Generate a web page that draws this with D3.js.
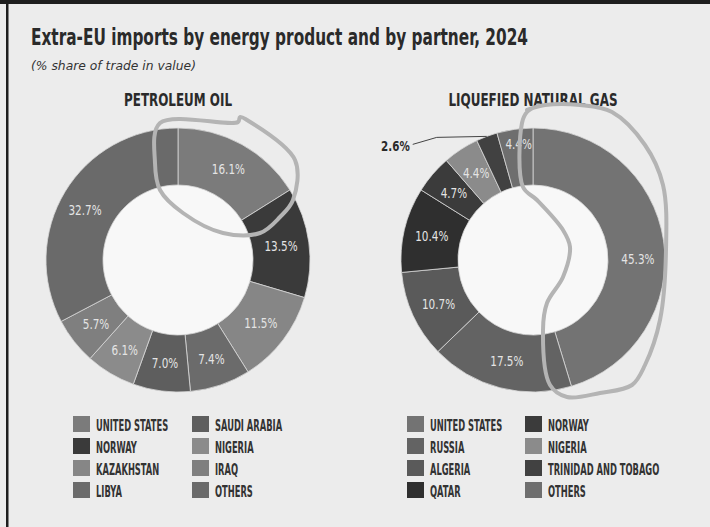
<!DOCTYPE html>
<html>
<head>
<meta charset="utf-8">
<script src="https://cdn.jsdelivr.net/npm/d3@7"></script>
<style>
  html, body { margin: 0; padding: 0; background: #ececec; }
  svg { display: block; }
  text { font-family: "Liberation Sans Narrow", "DejaVu Sans Condensed", "Roboto", sans-serif; }
</style>
</head>
<body>
<div id="chart"></div>
<script>
// data
const oilPartners = ["UNITED STATES", "NORWAY", "KAZAKHSTAN", "LIBYA", "SAUDI ARABIA", "NIGERIA", "IRAQ", "OTHERS"];
const oilShares = [16.1, 13.5, 11.5, 7.4, 7.0, 6.1, 5.7, 32.7];
const oilColors = ["#7b7b7b", "#3a3a3a", "#868686", "#6b6b6b", "#5e5e5e", "#8b8b8b", "#7f7f7f", "#6a6a6a"];

const lngPartners = ["UNITED STATES", "RUSSIA", "ALGERIA", "QATAR", "NORWAY", "NIGERIA", "TRINIDAD AND TOBAGO", "OTHERS"];
const lngShares = [45.3, 17.5, 10.7, 10.4, 4.7, 4.4, 2.6, 4.4];
const lngColors = ["#737373", "#636363", "#5a5a5a", "#2f2f2f", "#3b3b3b", "#8b8b8b", "#414141", "#6e6e6e"];

// hand-drawn highlight marks on the reference (pixel offsets from each donut centre)
const oilScribble = [[-18, -137], [60, -138], [62, -143], [69, -140], [117, -100], [115, -60], [102, -43],
  [82, -27], [45, -27], [5, -47], [-18, -70], [-23, -97]];
const lngScribble = [[-6, -150], [12, -155], [47, -155], [79, -148], [112, -115], [130, -75], [133, -10],
  [127, 60], [112, 105], [99, 125], [67, 133], [34, 137], [17, 125], [10, 70], [14, 43], [30, 17],
  [37, -13], [30, -30], [4, -60], [-10, -73], [-11, -137], [-6, -148], [5, -154]];

const width = 710, height = 527;
const outerR = 132, innerR = 75;

const svg = d3.select("#chart").append("svg")
  .attr("width", width)
  .attr("height", height);

svg.append("rect").attr("width", width).attr("height", height).attr("fill", "#ececec");
// dark frame edges from the photo
svg.append("rect").attr("x", 0).attr("y", 0).attr("width", width).attr("height", 4).attr("fill", "#1e1e1e");
svg.append("rect").attr("x", 6).attr("y", 0).attr("width", 2.5).attr("height", height).attr("fill", "#1e1e1e");

svg.append("text")
  .attr("x", 31).attr("y", 45)
  .attr("font-size", 23).attr("font-weight", "bold").attr("fill", "#2a2a2a")
  .attr("textLength", 497).attr("lengthAdjust", "spacingAndGlyphs")
  .text("Extra-EU imports by energy product and by partner, 2024");

svg.append("text")
  .attr("x", 31).attr("y", 70)
  .attr("font-size", 13).attr("font-style", "italic").attr("fill", "#333")
  .attr("textLength", 165).attr("lengthAdjust", "spacingAndGlyphs")
  .text("(% share of trade in value)");

const pie = d3.pie().sort(null).value(d => d.value);
const arc = d3.arc().innerRadius(innerR).outerRadius(outerR);
const labelArc = d3.arc().innerRadius(104).outerRadius(104);

function drawDonut(cfg) {
  const data = cfg.partners.map((p, i) => ({ name: p, value: cfg.shares[i], color: cfg.colors[i] }));
  const g = svg.append("g").attr("transform", `translate(${cfg.cx},${cfg.cy})`);

  g.append("text")
    .attr("x", 0).attr("y", -154)
    .attr("text-anchor", "middle")
    .attr("font-size", 17).attr("font-weight", "bold").attr("fill", "#2a2a2a")
    .attr("textLength", cfg.titleWidth).attr("lengthAdjust", "spacingAndGlyphs")
    .text(cfg.title);

  g.append("circle").attr("r", innerR).attr("fill", "#f8f8f8");

  const arcs = pie(data);
  g.selectAll("path.slice")
    .data(arcs)
    .join("path")
    .attr("class", "slice")
    .attr("d", arc)
    .attr("fill", d => d.data.color)
    .attr("stroke", "#d8d8d8")
    .attr("stroke-width", 0.8);

  // labels inside the ring
  g.selectAll("text.val")
    .data(arcs.filter(d => d.data.value >= 3))
    .join("text")
    .attr("class", "val")
    .attr("transform", d => {
      const [x, y] = labelArc.centroid(d);
      const off = cfg.labelOffsets[d.index] || [0, 0];
      return `translate(${x + off[0]},${y + off[1]}) scale(0.8,1)`;
    })
    .attr("text-anchor", "middle")
    .attr("dy", "0.36em")
    .attr("font-size", 14.5).attr("fill", "#e4e4e4")
    .text(d => d.data.value.toFixed(1) + "%");

  // small slices get a leader line and an outside label
  arcs.filter(d => d.data.value < 3).forEach(d => {
    const a = (d.startAngle + d.endAngle) / 2;
    const px = Math.sin(a) * outerR, py = -Math.cos(a) * outerR;
    g.append("polyline")
      .attr("points", `${px},${py} ${px - 50},${py + 1} ${px - 74},${py + 8}`)
      .attr("fill", "none").attr("stroke", "#444").attr("stroke-width", 1);
    g.append("text")
      .attr("transform", `translate(${px - 77},${py + 15}) scale(0.82,1)`)
      .attr("text-anchor", "end")
      .attr("font-size", 14).attr("font-weight", "bold").attr("fill", "#2a2a2a")
      .text(d.data.value.toFixed(1) + "%");
  });

  // hand-drawn highlight
  g.append("path")
    .attr("d", d3.line().curve(cfg.closed ? d3.curveCatmullRomClosed : d3.curveCatmullRom)(cfg.scribble))
    .attr("fill", "none").attr("stroke", "#b4b4b4").attr("stroke-width", 4)
    .attr("stroke-linejoin", "round").attr("stroke-linecap", "round");

  // legend, two columns of four
  const leg = svg.append("g").attr("transform", `translate(${cfg.legendX},416)`);
  const item = leg.selectAll("g.item")
    .data(data)
    .join("g")
    .attr("class", "item")
    .attr("transform", (d, i) => `translate(${Math.floor(i / 4) * cfg.colGap},${(i % 4) * 22})`);
  item.append("rect").attr("width", 17).attr("height", 16).attr("fill", d => d.color);
  item.append("text")
    .attr("transform", "translate(23,14.5) scale(0.58,1)")
    .attr("font-size", 16).attr("font-weight", "bold").attr("fill", "#333")
    .text(d => d.name);
}

drawDonut({
  title: "PETROLEUM OIL", titleWidth: 108, cx: 178, cy: 260,
  partners: oilPartners, shares: oilShares, colors: oilColors,
  labelOffsets: { 7: [-4, 4] },
  scribble: oilScribble, closed: true,
  legendX: 73, colGap: 119
});

drawDonut({
  title: "LIQUEFIED NATURAL GAS", titleWidth: 169, cx: 533, cy: 260,
  partners: lngPartners, shares: lngShares, colors: lngColors,
  labelOffsets: { 0: [2, 14], 7: [0, -13] },
  scribble: lngScribble, closed: false,
  legendX: 407, colGap: 118
});
</script>
</body>
</html>
